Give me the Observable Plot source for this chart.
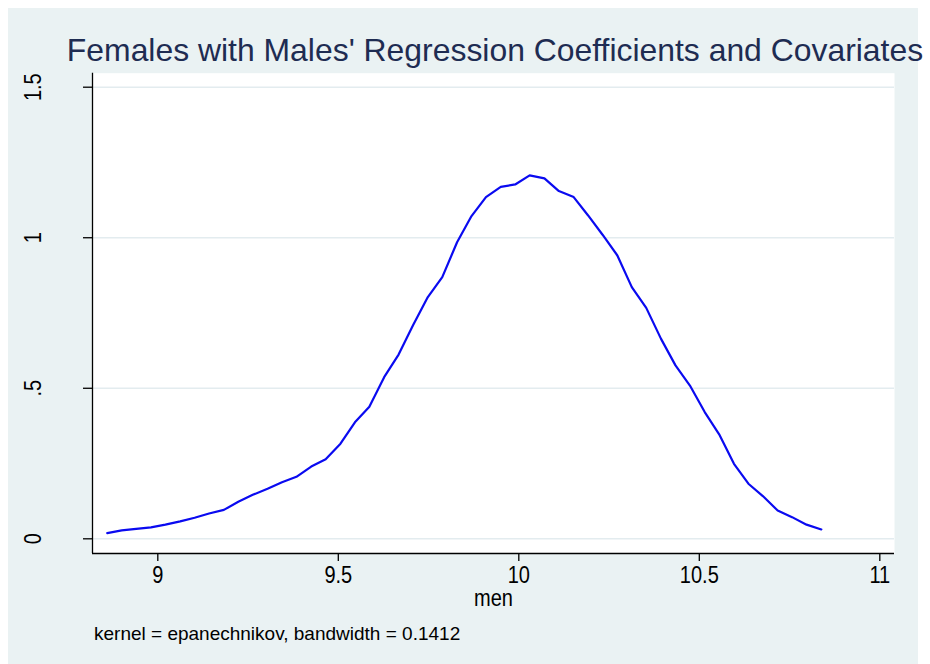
<!DOCTYPE html>
<html>
<head>
<meta charset="utf-8">
<script src="https://cdn.jsdelivr.net/npm/d3@7"></script>
<script src="https://cdn.jsdelivr.net/npm/@observablehq/plot@0.6"></script>
<style>
  html, body { margin: 0; padding: 0; background: #ffffff; }
  body { width: 930px; height: 664px; position: relative; overflow: hidden; font-family: "Liberation Sans", Arial, sans-serif; }
  #bg { position: absolute; left: 8px; top: 8px; width: 910px; height: 656px; background: #EAF2F3; }
  #title { position: absolute; left: 0; width: 990px; top: 35px; text-align: center; font-size: 31.9px; line-height: 1; color: #1E2C52; white-space: nowrap; }
  #chart { position: absolute; left: 8px; top: 66px; }
  #caption { position: absolute; left: 94px; top: 624px; font-size: 19px; line-height: 1; color: #000; white-space: nowrap; }
</style>
</head>
<body>
<div id="bg"></div>
<div id="title">Females with Males' Regression Coefficients and Covariates</div>
<div id="chart"></div>
<div id="caption">kernel = epanechnikov, bandwidth = 0.1412</div>
<script>
// Kernel density estimate points (x = "men", y = density)
const men = [8.860, 8.900, 8.940, 8.981, 9.021, 9.062, 9.102, 9.142, 9.183, 9.223,
             9.263, 9.304, 9.344, 9.384, 9.425, 9.465, 9.506, 9.546, 9.586, 9.627,
             9.667, 9.707, 9.748, 9.788, 9.829, 9.869, 9.909, 9.950, 9.990, 10.030,
             10.071, 10.111, 10.152, 10.192, 10.232, 10.273, 10.313, 10.353, 10.394, 10.434,
             10.474, 10.515, 10.555, 10.596, 10.636, 10.676, 10.717, 10.757, 10.797, 10.838];
const density = [0.019, 0.028, 0.033, 0.038, 0.047, 0.058, 0.070, 0.084, 0.096, 0.123,
                 0.146, 0.166, 0.188, 0.206, 0.240, 0.264, 0.316, 0.387, 0.439, 0.537,
                 0.612, 0.709, 0.803, 0.869, 0.985, 1.072, 1.135, 1.169, 1.177, 1.207,
                 1.197, 1.155, 1.135, 1.074, 1.010, 0.941, 0.836, 0.767, 0.664, 0.576,
                 0.509, 0.421, 0.347, 0.249, 0.183, 0.142, 0.094, 0.072, 0.047, 0.031];

const xTicks = [9, 9.5, 10, 10.5, 11];
const xTickLabels = ["9", "9.5", "10", "10.5", "11"];
const yTicks = [0, 0.5, 1, 1.5];
const yTickLabels = ["0", ".5", "1", "1.5"];
const xLabel = "men";

const xDomain = [8.8191, 11.0407];
const yDomain = [-0.0488, 1.5465];

const data = men.map((x, i) => ({x, y: density[i]}));

const chart = Plot.plot({
  width: 910,
  height: 560,
  marginLeft: 84,
  marginRight: 24,
  marginTop: 6.7,
  marginBottom: 73,
  style: { background: "transparent", fontFamily: "'Liberation Sans', Arial, sans-serif", color: "#000", overflow: "visible" },
  x: { domain: xDomain, axis: null },
  y: { domain: yDomain, axis: null },
  marks: [
    Plot.frame({ fill: "white", stroke: "none" }),
    Plot.gridY({ ticks: yTicks, stroke: "#E3ECEF", strokeOpacity: 1, strokeWidth: 1.6 }),
    Plot.ruleY([yDomain[0]], { stroke: "#000", strokeWidth: 1.3 }),
    Plot.ruleX([xDomain[0]], { stroke: "#000", strokeWidth: 1.3 }),
    Plot.axisX({ ticks: xTicks, tickSize: 8, tickFormat: () => "", stroke: "#000", strokeWidth: 1.3, label: null }),
    Plot.axisY({ ticks: yTicks, tickSize: 9, tickFormat: () => "", stroke: "#000", strokeWidth: 1.3, label: null }),
    Plot.text(xTicks, { x: d => d, frameAnchor: "bottom", dy: 29, textAnchor: "middle", lineAnchor: "middle",
                        fontSize: 23, fill: "#000", text: (d, i) => xTickLabels[i] }),
    Plot.text(yTicks, { y: d => d, frameAnchor: "left", dx: -52, rotate: -90, textAnchor: "middle", lineAnchor: "middle",
                        fontSize: 23, fill: "#000", text: (d, i) => yTickLabels[i] }),
    Plot.text([xLabel], { frameAnchor: "bottom", dy: 52, lineAnchor: "middle", fontSize: 23, fill: "#000", text: d => d }),
    Plot.line(data, { x: "x", y: "y", stroke: "#0A0AF0", strokeWidth: 2.2 })
  ]
});

// Condense the tick/axis label texts horizontally (Stata-like tall glyphs)
d3.select(chart).selectAll('g[aria-label="text"] text').each(function () {
  let t = this.getAttribute("transform") || "";
  const x = this.getAttribute("x"), y = this.getAttribute("y");
  if (x !== null || y !== null) {
    t = `translate(${+x || 0},${+y || 0}) ` + t;
    this.removeAttribute("x");
    this.removeAttribute("y");
  }
  this.setAttribute("transform", t + " scale(0.87,1)");
});

document.getElementById("chart").appendChild(chart);
</script>
</body>
</html>
